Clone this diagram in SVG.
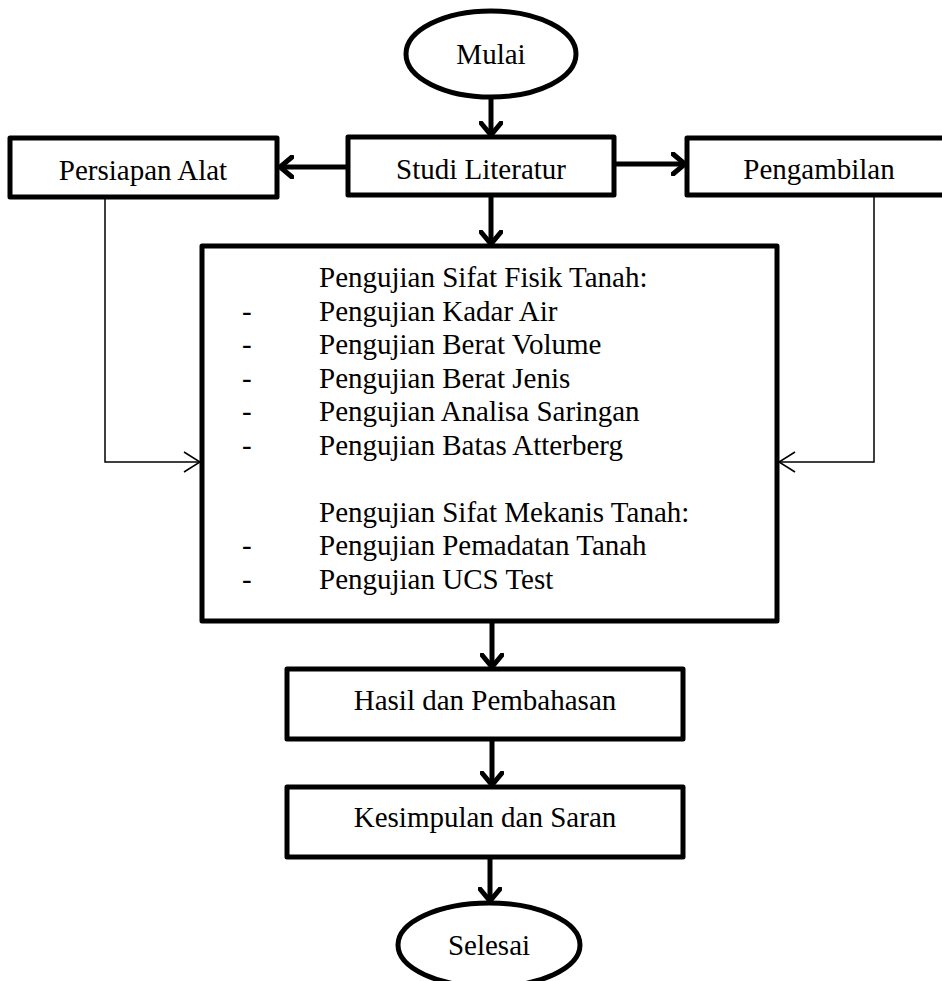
<svg xmlns="http://www.w3.org/2000/svg" width="942" height="981" viewBox="0 0 942 981">
<style>
.box{fill:#fff;stroke:#000;stroke-width:5;stroke-linejoin:round}
.t{font-family:"Liberation Serif","Times New Roman",serif;font-size:29px;fill:#000}
.c{text-anchor:middle}
.thick{fill:none;stroke:#000;stroke-width:5}
.thin{fill:none;stroke:#000;stroke-width:1.5}
</style>
<defs>
<marker id="ah" viewBox="0 0 16 24" refX="14" refY="12" markerWidth="16" markerHeight="24" markerUnits="userSpaceOnUse" orient="auto">
<polyline points="2,2 14,12 2,22" fill="none" stroke="#000" stroke-width="5" stroke-linecap="round" stroke-linejoin="miter"/>
</marker>
<marker id="ahs" viewBox="0 0 20 24" refX="18" refY="12" markerWidth="20" markerHeight="24" markerUnits="userSpaceOnUse" orient="auto">
<polyline points="2,2 18,12 2,22" fill="none" stroke="#000" stroke-width="1.5"/>
</marker>
</defs>
<rect width="942" height="981" fill="#fff"/>
<g id="connectors">
<line class="thick" x1="491" y1="98" x2="491" y2="135" marker-end="url(#ah)"/>
<line class="thick" x1="348" y1="167" x2="280" y2="167" marker-end="url(#ah)"/>
<line class="thick" x1="614" y1="164" x2="685" y2="164" marker-end="url(#ah)"/>
<line class="thick" x1="491" y1="196" x2="491" y2="244" marker-end="url(#ah)"/>
<line class="thick" x1="492" y1="621" x2="492" y2="667" marker-end="url(#ah)"/>
<line class="thick" x1="492" y1="739" x2="492" y2="785" marker-end="url(#ah)"/>
<line class="thick" x1="490" y1="857" x2="490" y2="901" marker-end="url(#ah)"/>
<polyline class="thin" points="105,197 105,462 200,462" marker-end="url(#ahs)"/>
<polyline class="thin" points="874,196 874,462 779,462" marker-end="url(#ahs)"/>
</g>
<g id="mulai">
<ellipse class="box" cx="491" cy="54" rx="85" ry="43"/>
<text class="t c" x="491" y="64">Mulai</text>
</g>
<g id="persiapan">
<rect class="box" x="10" y="138" width="267" height="59"/>
<text class="t c" x="143" y="180">Persiapan Alat</text>
</g>
<g id="studi">
<rect class="box" x="348" y="137" width="266" height="58"/>
<text class="t c" x="481" y="179">Studi Literatur</text>
</g>
<g id="pengambilan">
<rect class="box" x="687" y="138" width="264" height="57"/>
<text class="t c" x="819" y="179">Pengambilan</text>
</g>
<g id="pengujian">
<rect class="box" x="202" y="246" width="575" height="375"/>
<text class="t" x="319" y="287">Pengujian Sifat Fisik Tanah:</text>
<text class="t" x="242" y="320.5">-</text><text class="t" x="319" y="320.5">Pengujian Kadar Air</text>
<text class="t" x="242" y="354">-</text><text class="t" x="319" y="354">Pengujian Berat Volume</text>
<text class="t" x="242" y="387.5">-</text><text class="t" x="319" y="387.5">Pengujian Berat Jenis</text>
<text class="t" x="242" y="421">-</text><text class="t" x="319" y="421">Pengujian Analisa Saringan</text>
<text class="t" x="242" y="454.5">-</text><text class="t" x="319" y="454.5">Pengujian Batas Atterberg</text>
<text class="t" x="319" y="521.5">Pengujian Sifat Mekanis Tanah:</text>
<text class="t" x="242" y="555">-</text><text class="t" x="319" y="555">Pengujian Pemadatan Tanah</text>
<text class="t" x="242" y="588.5">-</text><text class="t" x="319" y="588.5">Pengujian UCS Test</text>
</g>
<g id="hasil">
<rect class="box" x="287" y="669" width="396" height="70"/>
<text class="t c" x="485" y="710">Hasil dan Pembahasan</text>
</g>
<g id="kesimpulan">
<rect class="box" x="287" y="787" width="396" height="70"/>
<text class="t c" x="485" y="827">Kesimpulan dan Saran</text>
</g>
<g id="selesai">
<ellipse class="box" cx="489" cy="945" rx="91" ry="42"/>
<text class="t c" x="489" y="955">Selesai</text>
</g>
</svg>
